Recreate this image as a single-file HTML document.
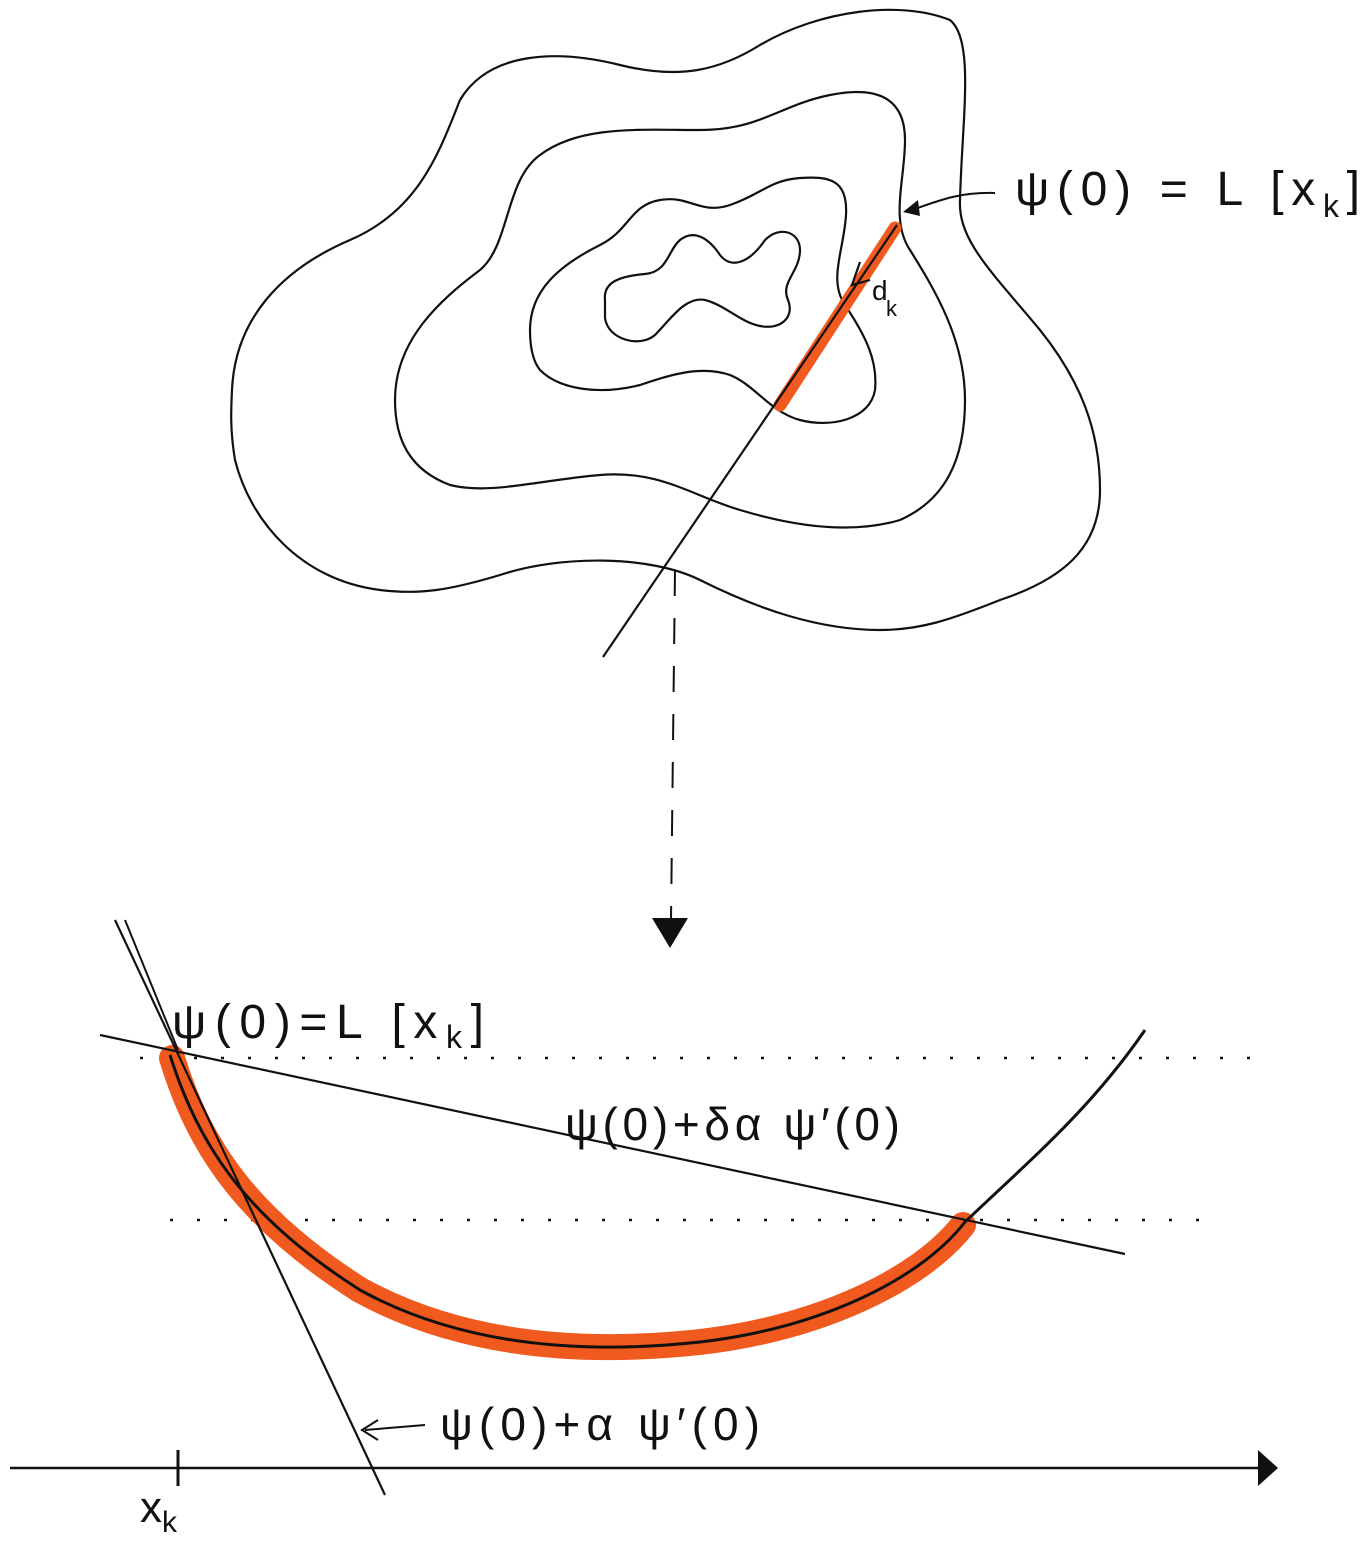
<!DOCTYPE html>
<html><head><meta charset="utf-8"><style>
html,body{margin:0;padding:0;background:#fff;}
svg{display:block;}
text{font-family:"Liberation Sans",sans-serif;fill:#111;}
</style></head><body>
<svg width="1365" height="1546" viewBox="0 0 1365 1546" xmlns="http://www.w3.org/2000/svg">
<g fill="none" stroke="#111" stroke-width="2.2" stroke-linecap="round" stroke-linejoin="round">
<path d="M232,390 C235,320 280,270 350,240 C420,210 440,150 460,100 C490,50 560,50 620,65 C680,80 720,70 760,45 C820,10 900,0 950,20 C975,40 962,120 960,200 C958,240 990,270 1040,330 C1080,380 1100,430 1100,490 C1100,550 1060,580 1000,600 C950,620 920,630 880,630 C820,630 760,610 700,580 C650,555 560,555 500,575 C450,590 420,595 380,590 C300,580 250,520 235,460 C230,430 231,410 232,390 Z"/>
<path d="M395,400 C395,340 440,300 480,270 C510,245 505,180 540,155 C580,125 640,130 700,130 C760,130 780,105 830,95 C880,85 905,100 905,140 C905,180 890,220 910,250 C935,290 965,340 965,400 C965,460 945,500 900,520 C850,535 790,525 740,510 C690,495 660,470 600,475 C540,480 490,495 450,485 C410,470 395,440 395,400 Z"/>
<path d="M530,330 C530,290 560,265 600,245 C630,230 630,205 660,200 C690,195 700,215 730,205 C760,195 770,180 800,178 C830,176 848,180 846,215 C844,250 828,280 845,305 C865,335 878,360 875,390 C870,420 830,428 800,420 C770,412 755,385 730,375 C700,365 670,375 640,385 C600,395 560,390 540,370 C532,360 530,345 530,330 Z"/>
<path d="M605,300 C603,282 620,276 645,274 C668,272 668,250 680,240 C695,228 710,240 720,255 C732,270 750,262 765,240 C780,225 800,232 800,250 C800,272 780,282 788,300 C795,318 780,330 760,326 C740,322 725,305 705,300 C685,296 670,320 655,335 C640,348 608,340 605,318 Z"/>
</g>
<line x1="895" y1="228" x2="780" y2="405" stroke="#f05a1e" stroke-width="13" stroke-linecap="round"/>
<line x1="897" y1="225" x2="603" y2="657" stroke="#111" stroke-width="2.2"/>
<path d="M860,262 L852,285 L870,280" fill="none" stroke="#111" stroke-width="2.2"/>
<text x="872" y="300" font-size="28">d</text>
<text x="886" y="316" font-size="22">k</text>
<path d="M995,193 C960,192 940,200 912,210" fill="none" stroke="#111" stroke-width="2"/>
<path d="M903,212 L918,200 L920,216 Z" fill="#111"/>
<text x="1015" y="205" font-size="48" textLength="345" lengthAdjust="spacing">ψ(0) = L [x<tspan font-size="32" dy="12">k</tspan><tspan dy="-12">]</tspan></text>
<line x1="675" y1="570" x2="671" y2="920" stroke="#111" stroke-width="2" stroke-dasharray="26,22"/>
<path d="M652,918 L688,918 L670,948 Z" fill="#111"/>
<line x1="140" y1="1058" x2="1250" y2="1058" stroke="#111" stroke-width="2.5" stroke-dasharray="3,24"/>
<line x1="170" y1="1220" x2="1210" y2="1220" stroke="#111" stroke-width="2.5" stroke-dasharray="3,24"/>
<path d="M172,1058 C200,1150 250,1220 360,1290 C460,1345 580,1355 700,1342 C820,1328 920,1280 963,1225" fill="none" stroke="#f05a1e" stroke-width="26" stroke-linecap="round"/>
<path d="M170,1055 C200,1150 250,1220 360,1290 C460,1345 580,1355 700,1342 C820,1328 920,1280 965,1222 C1030,1160 1090,1110 1145,1030" fill="none" stroke="#111" stroke-width="3"/>
<line x1="115" y1="920" x2="385" y2="1495" stroke="#111" stroke-width="2.2"/>
<line x1="125" y1="920" x2="178" y2="1050" stroke="#111" stroke-width="2"/>
<line x1="100" y1="1035" x2="1125" y2="1254" stroke="#111" stroke-width="2.2"/>
<text x="172" y="1038" font-size="48" textLength="312" lengthAdjust="spacing">ψ(0)=L [x<tspan font-size="32" dy="10">k</tspan><tspan dy="-10">]</tspan></text>
<text x="565" y="1140" font-size="46" textLength="335" lengthAdjust="spacing">ψ(0)+δα ψ′(0)</text>
<text x="440" y="1440" font-size="46" textLength="320" lengthAdjust="spacing">ψ(0)+α ψ′(0)</text>
<line x1="425" y1="1425" x2="365" y2="1430" stroke="#111" stroke-width="2"/>
<path d="M378,1420 L362,1430 L378,1440" fill="none" stroke="#111" stroke-width="2"/>
<line x1="10" y1="1468" x2="1262" y2="1468" stroke="#111" stroke-width="2.5"/>
<path d="M1258,1450 L1278,1468 L1258,1486 Z" fill="#111"/>
<line x1="178" y1="1450" x2="178" y2="1486" stroke="#111" stroke-width="3"/>
<text x="140" y="1522" font-size="44">x<tspan font-size="30" dy="10">k</tspan></text>
</svg>
</body></html>
